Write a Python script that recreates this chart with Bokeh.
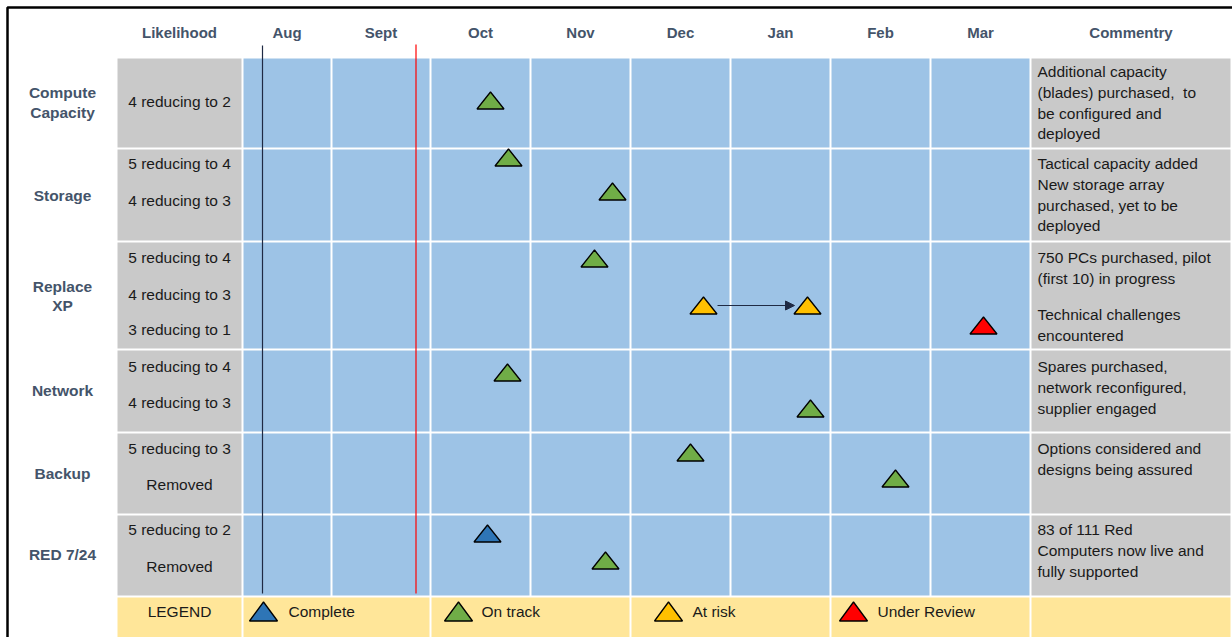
from bokeh.plotting import figure
from bokeh.models import Range1d, Arrow, NormalHead
from bokeh.core.properties import value
from bokeh.embed import file_html
from bokeh.resources import INLINE

# ---------------- data ----------------
months = ["Aug", "Sept", "Oct", "Nov", "Dec", "Jan", "Feb", "Mar"]
risks = [["Compute", "Capacity"], ["Storage"], ["Replace", "XP"], ["Network"], ["Backup"], ["RED 7/24"]]
likelihood = [
    ["4 reducing to 2"],
    ["5 reducing to 4", "4 reducing to 3"],
    ["5 reducing to 4", "4 reducing to 3", "3 reducing to 1"],
    ["5 reducing to 4", "4 reducing to 3"],
    ["5 reducing to 3", "Removed"],
    ["5 reducing to 2", "Removed"],
]
commentary = [
    ["Additional capacity", "(blades) purchased,\u00a0 to", "be configured and", "deployed"],
    ["Tactical capacity added", "New storage array", "purchased, yet to be", "deployed"],
    ["750 PCs purchased, pilot", "(first 10) in progress", "", "Technical challenges", "encountered"],
    ["Spares purchased,", "network reconfigured,", "supplier engaged"],
    ["Options considered and", "designs being assured"],
    ["83 of 111 Red", "Computers now live and", "fully supported"],
]
# milestones: x (position on timeline, px), y (px from top), status
ms_x = [490, 508, 612, 594, 703, 807, 983, 507, 810, 690, 895, 487, 605]
ms_y = [100, 157, 191, 258, 305, 305, 325, 372, 408, 452, 478, 533, 560]
ms_status = ["On track", "On track", "On track", "On track", "At risk", "At risk", "Under Review",
             "On track", "On track", "On track", "On track", "Complete", "On track"]
legend_status = ["Complete", "On track", "At risk", "Under Review"]
status_colors = {"Complete": "#2E75B6", "On track": "#70AD47", "At risk": "#FFC000", "Under Review": "#FF0000"}

# ---------------- layout ----------------
W, H = 1232, 637
col_edges = [116, 242, 331, 430, 530, 630, 730, 830, 930, 1030, 1231]
row_edges = [57, 148, 241, 349, 432, 514, 596, 645]
legend_edges = [116, 242, 430, 630, 830, 1030, 1231]
row_label_y = [[92, 112], [195], [286, 305], [390], [473], [554]]
lik_y = [[101], [163, 200], [257, 294, 329], [366, 402], [448, 484], [529, 566]]
com_y0 = [71, 163, 257, 366, 448, 529]
com_dy = 20.8
gray = "#C9C9C9"
blue = "#9DC3E6"
yellow = "#FFE699"
slate = "#44546A"
FONT = value("Liberation Sans")

p = figure(width=W, height=H, output_backend="svg", toolbar_location=None,
           x_range=Range1d(0, W), y_range=Range1d(H, 0), min_border=0,
           background_fill_color="white", border_fill_color="white", outline_line_color=None)
p.axis.visible = False
p.grid.visible = False

# outer frame
p.quad(left=[7], right=[1240], top=[7], bottom=[700], fill_color=None, line_color="black", line_width=2.5)

# table cells
L, R, T, B, C = [], [], [], [], []
for ri in range(len(risks)):
    for ci in range(len(col_edges) - 1):
        L.append(col_edges[ci] + 1)
        R.append(col_edges[ci + 1] - 1)
        T.append(row_edges[ri] + 1)
        B.append(row_edges[ri + 1] - 1)
        C.append(blue if 0 < ci < len(col_edges) - 2 else gray)
for ci in range(len(legend_edges) - 1):
    L.append(legend_edges[ci] + 1)
    R.append(legend_edges[ci + 1] - 1)
    T.append(row_edges[-2] + 1)
    B.append(row_edges[-1])
    C.append(yellow)
p.quad(left=L, right=R, top=T, bottom=B, fill_color=C, line_color=None)

# timeline marker lines
p.segment(x0=[262], y0=[45], x1=[262], y1=[593], line_color="#1F2A44", line_width=1.2)
p.segment(x0=[415.5], y0=[44], x1=[415.5], y1=[593], line_color="#FF0000", line_width=1.2)

# header
hx = [(col_edges[i] + col_edges[i + 1]) / 2 for i in range(len(col_edges) - 1)]
headers = ["Likelihood"] + months + ["Commentry"]
p.text(x=hx, y=[32] * len(headers), text=headers, text_align="center", text_baseline="middle",
       text_font=FONT, text_font_style="bold", text_font_size="15px", text_color=slate)

# row labels
rx, ry, rt = [], [], []
for ri, lines in enumerate(risks):
    for li, t in enumerate(lines):
        rx.append(62); ry.append(row_label_y[ri][li]); rt.append(t)
p.text(x=rx, y=ry, text=rt, text_align="center", text_baseline="middle",
       text_font=FONT, text_font_style="bold", text_font_size="15.5px", text_color=slate)

# likelihood
lx, ly, lt = [], [], []
for ri, lines in enumerate(likelihood):
    for li, t in enumerate(lines):
        lx.append(179); ly.append(lik_y[ri][li]); lt.append(t)
p.text(x=lx, y=ly, text=lt, text_align="center", text_baseline="middle",
       text_font=FONT, text_font_size="15.5px", text_color="#1a1a1a")

# commentary
cx, cy, ct = [], [], []
for ri, lines in enumerate(commentary):
    y = com_y0[ri]
    for t in lines:
        if t == "":
            y += com_dy * 0.75
            continue
        cx.append(1037); cy.append(y); ct.append(t)
        y += com_dy
p.text(x=cx, y=cy, text=ct, text_align="left", text_baseline="middle",
       text_font=FONT, text_font_size="15.5px", text_color="#1a1a1a")

# triangles helper
def tri(xs, ys, w, h):
    px, py = [], []
    for x, y in zip(xs, ys):
        px.append([x - w / 2, x + w / 2, x])
        py.append([y + h / 2, y + h / 2, y - h / 2])
    return px, py

txs, tys = tri(ms_x, ms_y, 27, 17)
p.patches(xs=txs, ys=tys, fill_color=[status_colors[s] for s in ms_status],
          line_color="black", line_width=1.3)

# arrow between at-risk milestones
p.add_layout(Arrow(end=NormalHead(size=9, fill_color="#1F2A44", line_color="#1F2A44"),
                   x_start=717, y_start=305, x_end=794, y_end=305,
                   line_color="#1F2A44", line_width=1.2))

# legend row
leg_tx = [263, 458, 668, 853]
leg_lx = [288, 481, 692, 877]
ltx, lty = tri(leg_tx, [611] * 4, 28, 19)
p.patches(xs=ltx, ys=lty, fill_color=[status_colors[s] for s in legend_status],
          line_color="black", line_width=1.3)
p.text(x=leg_lx, y=[611] * 4, text=legend_status, text_align="left", text_baseline="middle",
       text_font=FONT, text_font_size="15.5px", text_color="#1a1a1a")
p.text(x=[179], y=[611], text=["LEGEND"], text_align="center", text_baseline="middle",
       text_font=FONT, text_font_size="15.5px", text_color="#1a1a1a")

open("out.html", "w").write(file_html(p, INLINE))
